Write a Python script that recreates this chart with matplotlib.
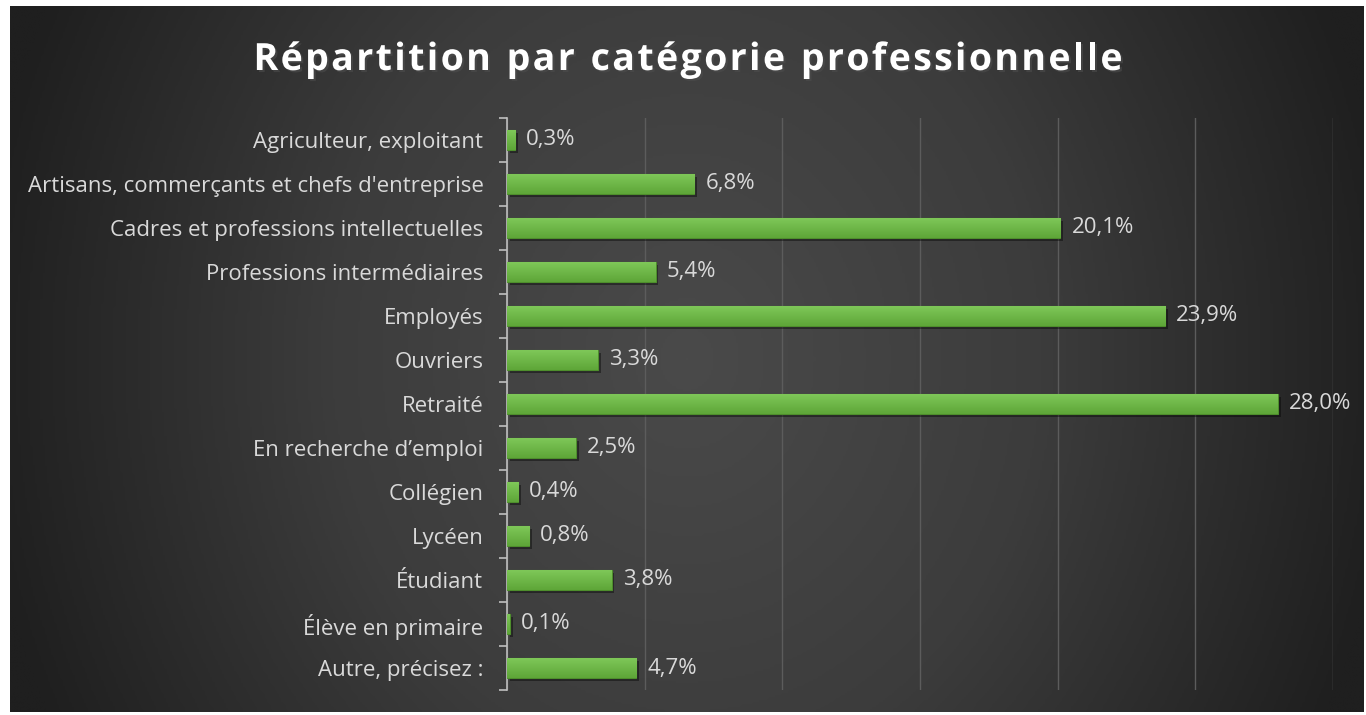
import numpy as np
import matplotlib.pyplot as plt
import matplotlib.patheffects as pe
from matplotlib.colors import LinearSegmentedColormap

categories = ["Agriculteur, exploitant",
              "Artisans, commerçants et chefs d'entreprise",
              "Cadres et professions intellectuelles",
              "Professions intermédiaires",
              "Employés",
              "Ouvriers",
              "Retraité",
              "En recherche d’emploi",
              "Collégien",
              "Lycéen",
              "Étudiant",
              "Élève en primaire",
              "Autre, précisez :"]
values = [0.3, 6.8, 20.1, 5.4, 23.9, 3.3, 28.0, 2.5, 0.4, 0.8, 3.8, 0.1, 4.7]
title = "Répartition par catégorie professionnelle"

plt.rcParams['font.family'] = ['Open Sans', 'DejaVu Sans']

fig = plt.figure(figsize=(13.66, 7.15), dpi=100, facecolor='white')

# background panel, lighter in the middle, dark towards the edges
bg = fig.add_axes([10/1366, 3/715, 1354/1366, 706/715])
yy, xx = np.mgrid[-1:1:300j, -1:1:600j]
r = np.sqrt(xx ** 2 + (yy * 0.45) ** 2)
bg_cmap = LinearSegmentedColormap.from_list('bg', ['#4a4a4a', '#3c3c3c', '#1f1f1f'])
bg.imshow(r, cmap=bg_cmap, vmin=0, vmax=1.05, aspect='auto',
          extent=[0, 1, 0, 1], interpolation='bilinear')
bg.set_axis_off()

ax = fig.add_axes([507/1366, 1 - 690/715, 826/1366, 572/715])
ax.patch.set_alpha(0)
y = np.arange(len(categories))
bars = ax.barh(y, values, height=0.46, color='#6cb444', edgecolor='#4e8e2c',
               linewidth=0.8, zorder=3,
               path_effects=[pe.SimplePatchShadow(offset=(2, -2), shadow_rgbFace='black', alpha=0.4),
                             pe.Normal()])

# gradient on bars
grad = np.linspace(0, 1, 50).reshape(-1, 1)
bar_cmap = LinearSegmentedColormap.from_list('g', ['#80c95a', '#5ea638'])
for b in bars:
    im = ax.imshow(grad, cmap=bar_cmap, aspect='auto', zorder=4,
                   extent=[b.get_x(), b.get_x() + b.get_width(),
                           b.get_y() + b.get_height(), b.get_y()])
    im.set_clip_path(b)

for yi, v in zip(y, values):
    ax.annotate(f"{v:.1f}%".replace('.', ','), (v, yi), xytext=(8, 0),
                textcoords='offset points', va='center', ha='left',
                color='#d9d9d9', fontsize=16)

ax.set_xlim(0, 30)
ax.set_ylim(len(categories) - 0.5, -0.5)
ax.set_xticks(np.arange(0, 31, 5))
ax.xaxis.grid(True, color='#5c5c5c', linewidth=1, zorder=0)
ax.tick_params(axis='x', length=0, labelbottom=False)
ax.set_yticks(y)
ax.set_yticklabels(categories, color='#d9d9d9', fontsize=16)
ax.set_yticks(np.arange(-0.5, len(categories)), minor=True)
ax.tick_params(axis='y', which='major', length=0, pad=17)
ax.tick_params(axis='y', which='minor', length=6, color='#bfbfbf', width=1.2)
for s in ['top', 'right', 'bottom']:
    ax.spines[s].set_visible(False)
ax.spines['left'].set_color('#bfbfbf')
ax.spines['left'].set_linewidth(1.2)

# title with extra letter spacing, one character at a time
renderer = fig.canvas.get_renderer()
title_kw = dict(color='white', fontsize=27, fontweight='bold', va='center', ha='left',
                path_effects=[pe.withSimplePatchShadow(offset=(1.5, -1.5), alpha=0.6)])
widths = []
for ch in title:
    t = fig.text(0, 0, 'n' if ch == ' ' else ch, **title_kw)
    w = t.get_window_extent(renderer).width
    if ch == ' ':
        w *= 0.45
    widths.append(w)
    t.remove()
target_w = 869
spacing = (target_w - sum(widths)) / (len(title) - 1)
x = 688 - target_w / 2
for ch, w in zip(title, widths):
    if ch != ' ':
        fig.text(x / 1366, 1 - 60/715, ch, **title_kw)
    x += w + spacing

fig.savefig('out.png', dpi=100, facecolor='white')
